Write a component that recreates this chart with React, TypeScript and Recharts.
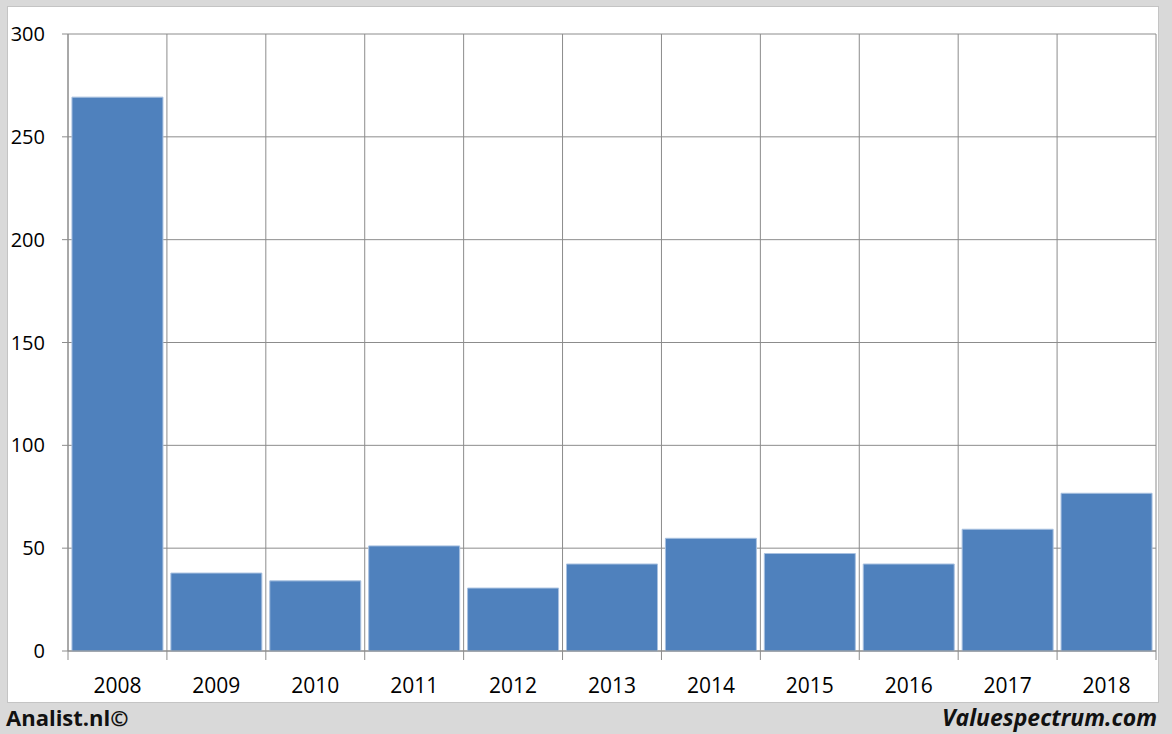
import { BarChart, Bar, XAxis, YAxis, CartesianGrid } from 'recharts'

// yearly values
const years = ['2008', '2009', '2010', '2011', '2012', '2013', '2014', '2015', '2016', '2017', '2018']
const values = [269.3, 37.9, 34.1, 51.1, 30.6, 42.3, 54.8, 47.4, 42.3, 59.2, 76.7]
const yTicks = [0, 50, 100, 150, 200, 250, 300]

const data = years.map((year, i) => ({ year, value: values[i] }))

const CHART_W = 1150
const CHART_H = 695
const MARGIN = { top: 27, right: 2, left: 0, bottom: 0 }
const Y_W = 60
const X_H = 51
const GRID = '#8c8c8c'
const FONT = '"Open Sans", "Liberation Sans", sans-serif'

const plotW = CHART_W - MARGIN.left - MARGIN.right - Y_W
const step = plotW / years.length

const XTick = (props: any) => {
  const { x, y, payload, index } = props
  const axisY = y - 8
  const left = x - step / 2
  return (
    <g>
      <line x1={left} y1={axisY} x2={left} y2={axisY + 9} stroke={GRID} />
      {index === years.length - 1 && (
        <line x1={x + step / 2} y1={axisY} x2={x + step / 2} y2={axisY + 9} stroke={GRID} />
      )}
      <text x={x} y={axisY + 34} textAnchor="middle" dominantBaseline="central" fontSize={21} fontFamily={FONT} fill="#000">
        {payload.value}
      </text>
    </g>
  )
}

export default function App() {
  return (
    <div style={{ position: 'absolute', left: 0, top: 0, width: 1172, height: 734, background: '#d9d9d9', fontFamily: FONT }}>
      <div style={{ position: 'absolute', left: 7, top: 6, width: CHART_W, height: CHART_H, background: '#fff', border: '1px solid #c4c4c4' }}>
        <BarChart width={CHART_W} height={CHART_H} data={data} margin={MARGIN} barCategoryGap="4%">
          <CartesianGrid
            stroke={GRID}
            verticalCoordinatesGenerator={({ offset }: any) =>
              years.map((_, i) => offset.left + i * (offset.width / years.length)).concat(offset.left + offset.width)
            }
          />
          <XAxis
            dataKey="year"
            height={X_H}
            axisLine={{ stroke: GRID }}
            tickLine={false}
            tickMargin={0}
            tickSize={8}
            interval={0}
            tick={<XTick />}
          />
          <YAxis
            width={Y_W}
            domain={[0, 300]}
            ticks={yTicks}
            interval={0}
            axisLine={{ stroke: GRID }}
            tickLine={{ stroke: GRID }}
            tickSize={6}
            tickMargin={17}
            tick={{ fontSize: 20, fill: '#000', fontFamily: FONT }}
          />
          <Bar dataKey="value" fill="#4f81bd" stroke="#a9c1e0" strokeWidth={1} isAnimationActive={false} />
        </BarChart>
      </div>
      <div style={{ position: 'absolute', left: 6, top: 702, fontSize: 22, fontWeight: 700, color: '#111', whiteSpace: 'nowrap' }}>
        Analist.nl©
      </div>
      <div style={{ position: 'absolute', right: 15, top: 701, fontSize: 23, fontWeight: 700, fontStyle: 'italic', color: '#111', whiteSpace: 'nowrap' }}>
        Valuespectrum.com
      </div>
    </div>
  )
}
